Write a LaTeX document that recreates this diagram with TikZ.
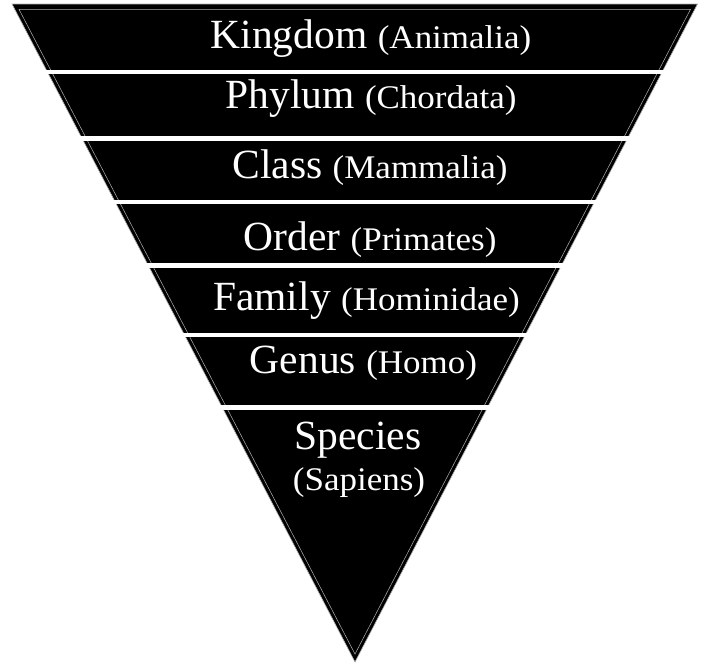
\documentclass[tikz,border=0pt]{standalone}
\usepackage{fontspec}
\setmainfont{Liberation Serif}
\usepackage{graphicx}
\newcommand\parenlbl[1]{\scalebox{1.06}[1]{\fontsize{33}{37}\selectfont(#1)}}
\begin{document}
\begin{tikzpicture}[x=1pt,y=-1pt,
  lbl/.style={text=white, font=\fontsize{41.5}{45}\selectfont, anchor=base, inner sep=0pt},
  outer/.style={fill=black, draw=gray!60, line width=0.6pt},
  inner/.style={draw=gray!60, line width=0.5pt},
  gapbar/.style={fill=white},
  gapedge/.style={draw=gray!40, line width=0.5pt}]
\useasboundingbox (0,0) rectangle (703,665);
\fill[white] (0,0) rectangle (703,665);
\draw[outer] (12,4) -- (697.5,4) -- (355,662) -- cycle;
\draw[inner] (19,9.3) -- (690.5,9.3) -- (355,654) -- cycle;
\foreach \a/\b in {70/74,136/140.6,200/204,263/268,333/337,405/410}{
  \fill[gapbar] (0,\a) rectangle (703,\b);
}
\node[lbl] (kingdom) at (371,48.3) {Kingdom \parenlbl{Animalia}};
\node[lbl] (phylum) at (371,108.3) {Phylum \parenlbl{Chordata}};
\node[lbl] (class) at (370,178.3) {Class \parenlbl{Mammalia}};
\node[lbl] (order) at (370,250) {Order \parenlbl{Primates}};
\node[lbl] (family) at (366.5,310) {Family \parenlbl{Hominidae}};
\node[lbl] (genus) at (363.5,373) {Genus \parenlbl{Homo}};
\node[lbl] (species) at (358,449) {Species};
\node[lbl] (sapiens) at (359,490) {\parenlbl{Sapiens}};
\end{tikzpicture}
\end{document}
